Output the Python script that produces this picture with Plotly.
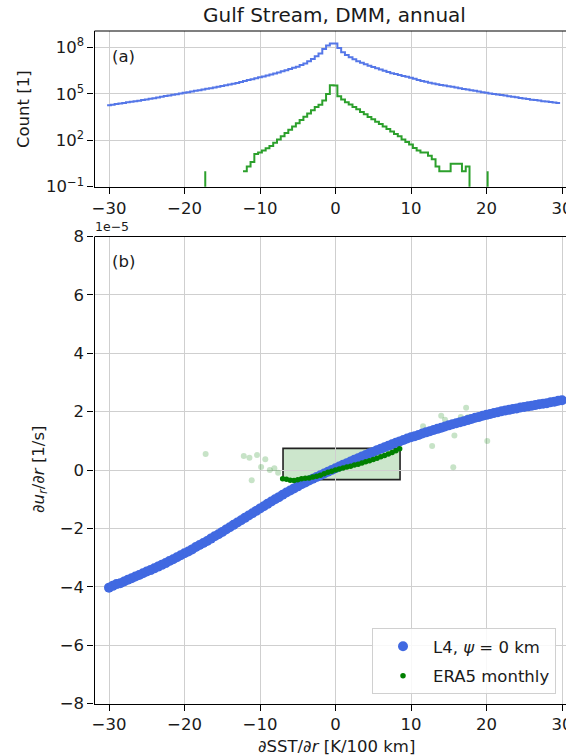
import plotly.graph_objects as go

# ---------------- data ----------------
# (a) histograms of the radial SST gradient [K/100 km], bin width 0.5
hist_bin_width = 0.5
l4_hist_centers = [-30 + 0.5 * i for i in range(120)]
l4_hist_counts = [
    1.82e4, 1.95e4, 2.14e4, 2.34e4, 2.57e4, 2.82e4, 3.02e4, 3.31e4, 3.55e4, 3.89e4,
    4.27e4, 4.68e4, 5.13e4, 5.75e4, 6.31e4, 7.08e4, 7.76e4, 8.51e4, 9.33e4, 1.05e5,
    1.15e5, 1.26e5, 1.38e5, 1.55e5, 1.70e5, 1.86e5, 2.09e5, 2.29e5, 2.57e5, 2.82e5,
    3.16e5, 3.55e5, 3.98e5, 4.47e5, 5.01e5, 5.75e5, 6.61e5, 7.59e5, 8.71e5, 1.00e6,
    1.15e6, 1.32e6, 1.51e6, 1.74e6, 2.00e6, 2.34e6, 2.82e6, 3.31e6, 3.98e6, 4.68e6,
    5.62e6, 7.08e6, 8.91e6, 1.23e7, 1.78e7, 2.63e7, 3.98e7, 7.59e7, 1.32e8, 1.74e8,
    1.78e8, 8.91e7, 4.79e7, 3.16e7, 2.29e7, 1.66e7, 1.26e7, 1.00e7, 7.94e6, 6.46e6,
    5.37e6, 4.37e6, 3.63e6, 3.02e6, 2.51e6, 2.14e6, 1.86e6, 1.62e6, 1.41e6, 1.23e6,
    1.07e6, 9.12e5, 7.76e5, 6.76e5, 5.89e5, 5.13e5, 4.57e5, 4.07e5, 3.72e5, 3.39e5,
    3.09e5, 2.82e5, 2.51e5, 2.29e5, 2.04e5, 1.86e5, 1.70e5, 1.55e5, 1.38e5, 1.26e5,
    1.15e5, 1.05e5, 9.77e4, 8.91e4, 8.32e4, 7.59e4, 6.92e4, 6.31e4, 5.89e4, 5.37e4,
    4.90e4, 4.57e4, 4.17e4, 3.89e4, 3.63e4, 3.31e4, 3.16e4, 2.95e4, 2.75e4, 2.57e4,
]
era5_hist_centers = [-12 + 0.5 * i for i in range(60)]
era5_hist_counts = [
    1, 2, 4, 13, 16, 22, 30, 42, 68, 110,
    178, 288, 468, 760, 1230, 2000, 3240, 5250, 8500, 13800,
    19500, 36300, 95500, 355000, 340000, 68000, 42000, 28000, 20000, 13800,
    9800, 6600, 4700, 3200, 2300, 1550, 1100, 760, 540, 360,
    250, 178, 110, 78, 52, 32, 22, 16, 16, 10,
    6, 2, 1, 1, 1, 3, 3, 3, 1, 2,
]
# isolated single-count ERA5 bins
era5_single_x = [-17.25, 20.15]
era5_single_count = [1, 1]

# (b) binned mean du_r/dr [1e-5 1/s] against dSST/dr [K/100 km]
l4_x = [-30 + 0.5 * i for i in range(121)]
l4_dudr = [
    -4.03, -3.97, -3.91, -3.88, -3.82, -3.76, -3.71, -3.65, -3.60, -3.54,
    -3.48, -3.43, -3.37, -3.31, -3.25, -3.19, -3.12, -3.06, -2.99, -2.92,
    -2.85, -2.79, -2.72, -2.64, -2.57, -2.50, -2.43, -2.35, -2.27, -2.20,
    -2.12, -2.04, -1.96, -1.88, -1.80, -1.72, -1.64, -1.56, -1.48, -1.40,
    -1.32, -1.24, -1.16, -1.08, -1.00, -0.93, -0.85, -0.77, -0.70, -0.63,
    -0.56, -0.49, -0.43, -0.36, -0.30, -0.24, -0.18, -0.12, -0.06, 0.00,
    0.06, 0.12, 0.18, 0.23, 0.29, 0.35, 0.40, 0.46, 0.51, 0.57,
    0.62, 0.68, 0.73, 0.78, 0.83, 0.88, 0.93, 0.98, 1.03, 1.08,
    1.12, 1.16, 1.20, 1.25, 1.29, 1.33, 1.37, 1.41, 1.45, 1.49,
    1.53, 1.57, 1.60, 1.64, 1.67, 1.71, 1.75, 1.79, 1.82, 1.86,
    1.89, 1.92, 1.95, 1.98, 2.01, 2.04, 2.06, 2.09, 2.11, 2.14,
    2.16, 2.18, 2.20, 2.23, 2.25, 2.27, 2.29, 2.32, 2.34, 2.37,
    2.39,
]
era5_x = [-7 + 0.5 * i for i in range(32)]
era5_dudr = [
    -0.30, -0.32, -0.35, -0.36, -0.33, -0.30, -0.28, -0.27, -0.24, -0.21,
    -0.18, -0.13, -0.08, -0.04, 0.00, 0.03, 0.07, 0.10, 0.13, 0.17,
    0.20, 0.24, 0.28, 0.32, 0.36, 0.40, 0.45, 0.50, 0.55, 0.60,
    0.66, 0.73,
]
# sparse ERA5 bins (few samples)
era5_sparse_x = [-17.2, -12.15, -11.4, -10.4, -9.3, -9.85, -8.7, -8.1, -7.6, -11.1,
                 11.6, 14.0, 14.5, 16.6, 17.3, 17.6, 15.75, 12.8, 20.1, 15.6]
era5_sparse_dudr = [0.55, 0.48, 0.42, 0.51, 0.37, 0.10, 0.00, 0.06, -0.09, -0.35,
                    1.50, 1.86, 1.72, 1.82, 2.13, 1.82, 1.18, 0.82, 0.99, 0.09]
# well-sampled ERA5 range
era5_box_x = [-6.95, 8.55]
era5_box_dudr = [-0.33, 0.74]

x_ticks = [-30, -20, -10, 0, 10, 20, 30]
count_ticks = [1e-1, 1e2, 1e5, 1e8]
count_ticktext = ["10<sup>−1</sup>", "10<sup>2</sup>", "10<sup>5</sup>", "10<sup>8</sup>"]
dudr_ticks = [-8, -6, -4, -2, 0, 2, 4, 6, 8]

# ---------------- layout helpers ----------------
W, H = 566, 756
FONT = "DejaVu Sans"
TXT = "#1a1a1a"
GRID = "#cfcfcf"
FS = 16.5

x_left_px, x0_px, x_per_unit = 94.5, 335.5, 7.55
x_range = [(x_left_px - x0_px) / x_per_unit, (W - x0_px) / x_per_unit]
top_px = (31.0, 186.7)
bot_px = (236.5, 703.5)


def ydom(p):
    return [1 - p[1] / H, 1 - p[0] / H]


def step_xy(centers, counts, width, drop_end=False):
    xs = [c - width / 2 for c in centers] + [centers[-1] + width / 2]
    ys = list(counts) + [1e-3 if drop_end else counts[-1]]
    return xs, ys


fig = go.Figure()

# ---- (a) histograms ----
hx, hy = step_xy(l4_hist_centers, l4_hist_counts, hist_bin_width)
fig.add_trace(go.Scatter(x=hx, y=hy, mode="lines", line=dict(color="#5577e8", width=2, shape="hv"),
                         xaxis="x", yaxis="y", showlegend=False, hoverinfo="skip"))
gx, gy = step_xy(era5_hist_centers, era5_hist_counts, hist_bin_width, drop_end=True)
fig.add_trace(go.Scatter(x=gx, y=gy, mode="lines", line=dict(color="#2ca02c", width=2, shape="hv"),
                         xaxis="x", yaxis="y", showlegend=False, hoverinfo="skip"))
sx, sy = [], []
for xv, cv in zip(era5_single_x, era5_single_count):
    sx += [xv, xv, None]
    sy += [1e-3, cv, None]
fig.add_trace(go.Scatter(x=sx, y=sy, mode="lines", line=dict(color="#2ca02c", width=2),
                         xaxis="x", yaxis="y", showlegend=False, hoverinfo="skip"))

# ---- (b) scatter ----
fig.add_trace(go.Scatter(x=era5_sparse_x, y=era5_sparse_dudr, mode="markers",
                         marker=dict(color="rgba(0,128,0,0.22)", size=6),
                         xaxis="x2", yaxis="y2", showlegend=False, hoverinfo="skip"))
fig.add_trace(go.Scatter(x=l4_x, y=l4_dudr, mode="markers", name="L4, <i>ψ</i> = 0 km",
                         marker=dict(color="#4169e1", size=10), legendgroup="l4",
                         xaxis="x2", yaxis="y2"))
fig.add_trace(go.Scatter(x=era5_x, y=era5_dudr, mode="markers", name="ERA5 monthly",
                         marker=dict(color="#008000", size=5.5), legendgroup="era5",
                         xaxis="x2", yaxis="y2"))

fig.add_shape(type="rect", xref="x2", yref="y2",
              x0=era5_box_x[0], x1=era5_box_x[1], y0=era5_box_dudr[0], y1=era5_box_dudr[1],
              fillcolor="rgba(0,128,0,0.2)", line=dict(color="#222222", width=1.6), layer="below")

# top spines (right side lies beyond the page edge)
for xr, yr in (("x domain", "y domain"), ("x2 domain", "y2 domain")):
    fig.add_shape(type="line", xref=xr, yref=yr, x0=0, x1=1, y0=1, y1=1,
                  line=dict(color="black", width=1.2))

axis_common = dict(showgrid=True, gridcolor=GRID, gridwidth=1, zeroline=False,
                   showline=True, linecolor="black", linewidth=1.2, mirror=False,
                   ticks="outside", ticklen=6, tickwidth=1.2, tickcolor="black",
                   tickfont=dict(family=FONT, size=FS, color=TXT))
x_common = dict(axis_common, domain=[x_left_px / W, 1], range=x_range, tickvals=x_ticks,
                ticktext=[str(v).replace("-", "−") for v in x_ticks], ticklabeloverflow="allow")

fig.update_layout(
    width=W, height=H, margin=dict(l=0, r=0, t=0, b=0, autoexpand=False),
    paper_bgcolor="white", plot_bgcolor="white",
    font=dict(family=FONT, size=FS, color=TXT),
    xaxis=dict(x_common, anchor="y"),
    yaxis=dict(axis_common, domain=ydom(top_px), type="log", range=[-1, 9.05],
               tickvals=count_ticks, ticktext=count_ticktext, anchor="x"),
    xaxis2=dict(x_common, anchor="y2"),
    yaxis2=dict(axis_common, domain=ydom(bot_px), range=[-8, 8], tickvals=dudr_ticks,
                ticktext=[str(v).replace("-", "−") for v in dudr_ticks], anchor="x2"),
    legend=dict(x=372 / W, y=1 - 628 / H, xanchor="left", yanchor="top",
                bgcolor="rgba(255,255,255,0.85)", bordercolor="#d0d0d0", borderwidth=1,
                font=dict(family=FONT, size=FS, color=TXT), itemwidth=50, tracegroupgap=5),
    showlegend=True,
)


def label(text, xpx, ypx, size=FS, angle=0, xanchor="center"):
    fig.add_annotation(text=text, xref="paper", yref="paper", x=xpx / W, y=1 - ypx / H,
                       xanchor=xanchor, yanchor="middle", showarrow=False, textangle=angle,
                       font=dict(family=FONT, size=size, color=TXT))


label("Gulf Stream, DMM, annual", 334, 15, size=20)
label("Count [1]", 23, 109, angle=-90)
label("∂<i>u</i><sub><i>r</i></sub>/∂<i>r</i> [1/s]", 39, 470, angle=-90)
label("∂SST/∂<i>r</i> [K/100 km]", 336, 746)
label("(a)", 110, 56.5, xanchor="left")
label("(b)", 110, 262, xanchor="left")
label("1e−5", 93, 227, size=12.5, xanchor="left")

# the page body gets no default margin, so the figure sits at the window's corner
fig.write_html("out.html", post_script="document.body.style.margin='0';")
